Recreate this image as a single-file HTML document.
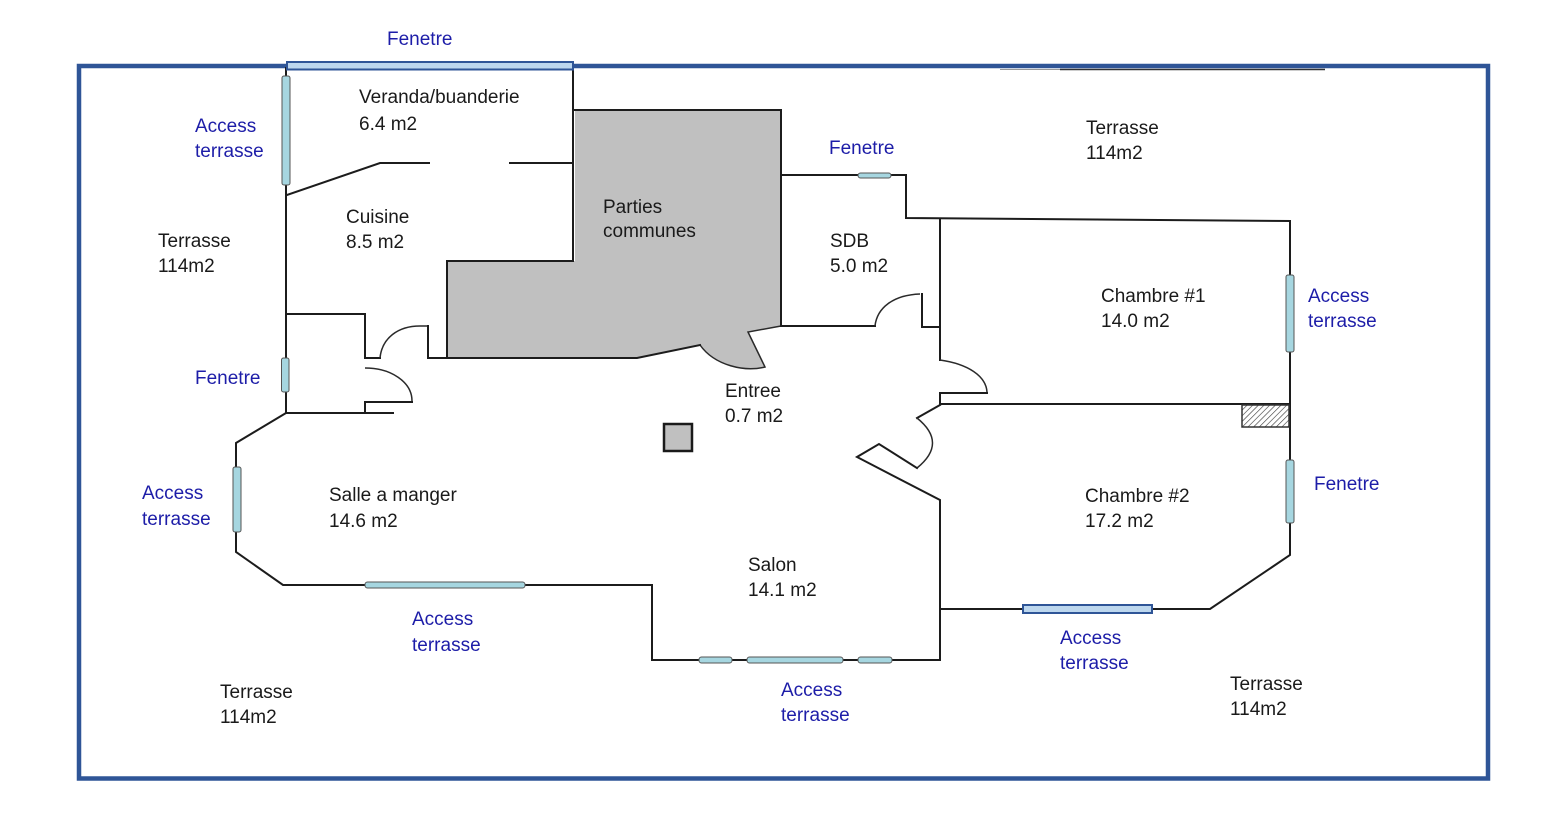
<!DOCTYPE html>
<html>
<head>
<meta charset="utf-8">
<style>
  html, body { margin: 0; padding: 0; background: #ffffff; }
  body { width: 1545px; height: 822px; overflow: hidden; }
  svg { display: block; }
  .t { font-family: "Liberation Sans", Arial, sans-serif; font-size: 19px; fill: #1a1a1a; }
  .b { font-family: "Liberation Sans", Arial, sans-serif; font-size: 19px; fill: #1d1da8; }
  .w { fill: none; stroke: #1c1c1c; stroke-width: 2; stroke-linejoin: miter; stroke-linecap: square; }
  .thin { fill: none; stroke: #2a2a2a; stroke-width: 1.5; }
  .cy { fill: #a6d6e0; stroke: #555; stroke-width: 1; }
  .bl { fill: #bdd7ee; stroke: #2f5597; stroke-width: 2; }
</style>
</head>
<body>
<svg width="1545" height="822" viewBox="0 0 1545 822" xmlns="http://www.w3.org/2000/svg">
  <defs>
    <pattern id="hatch" patternUnits="userSpaceOnUse" width="4" height="4" patternTransform="rotate(45)">
      <line x1="0" y1="0" x2="0" y2="4" stroke="#333" stroke-width="1.2"/>
    </pattern>
  </defs>

  <!-- Outer border -->
  <rect x="79" y="66" width="1409" height="712.5" fill="none" stroke="#2f5597" stroke-width="4.5"/>

  <!-- faint line top right -->
  <line x1="1000" y1="69.5" x2="1060" y2="69.5" stroke="#999" stroke-width="1"/>
  <line x1="1060" y1="69.5" x2="1325" y2="69.5" stroke="#333" stroke-width="1.4"/>

  <!-- Parties communes grey area -->
  <path d="M575,110 H781 V326 L748,332 L765,367 C745,372 715,366 700,345 L637,358 H447 V261 H575 Z" fill="#c0c0c0" stroke="none"/>
  <path class="w" d="M575,110 H781 V326"/>
  <path class="thin" d="M781,326 L748,332 L765,367 C745,372 715,366 700,345"/>
  <path class="w" d="M700,345 L637,358 H428"/>
  <path class="w" d="M447,358 V261 H573"/>

  <!-- Left outer wall -->
  <path class="w" d="M286,68 V413"/>
  <!-- Veranda / cuisine diagonal wall -->
  <path class="w" d="M287,195 L380,163 H429"/>
  <path class="w" d="M510,163 H573"/>
  <!-- Veranda right wall -->
  <path class="w" d="M573,68 V261"/>

  <!-- Closet -->
  <path class="w" d="M286,314 H365 V358 H380"/>
  <!-- Cuisine door -->
  <path class="thin" d="M380,358 C382,338 398,326 420,326 H428"/>
  <path class="w" d="M428,326 V358"/>
  <!-- Closet door -->
  <path class="thin" d="M365,368 C391,368 412,382 412,401"/>
  <path class="w" d="M412,402 H365 V413"/>
  <path class="w" d="M286,413 H393"/>

  <!-- Salle a manger outer walls -->
  <path class="w" d="M286,413 L236,443 V552 L283,585 H652 V660 H939"/>

  <!-- SDB -->
  <path class="w" d="M781,175 H906 V218 L1290,221"/>
  <path class="w" d="M781,326 H875"/>
  <path class="thin" d="M875,326 C877,308 893,295 920,294"/>
  <path class="w" d="M922,294 V327 H940"/>
  <path class="w" d="M940,220 V360"/>
  <!-- Chambre 1 door -->
  <path class="thin" d="M940,360 C968,364 986,376 987,392"/>
  <path class="w" d="M987,393 H940 V403"/>
  <!-- divider chambre 1 / 2 -->
  <path class="w" d="M940,404 H1290"/>
  <!-- Chambre 2 door -->
  <path class="w" d="M940,405 L917,418"/>
  <path class="thin" d="M917,418 Q948,443 917,468"/>
  <path class="w" d="M917,468 L879,444 L857,457 L940,500 V660"/>

  <!-- Right outer wall -->
  <path class="w" d="M1290,221 V555 L1210,609 H940"/>

  <!-- Hatched box -->
  <rect x="1242" y="405" width="47" height="22" fill="url(#hatch)" stroke="#333" stroke-width="1.5"/>

  <!-- Pillar -->
  <rect x="664" y="424" width="28" height="27" fill="#c0c0c0" stroke="#1a1a1a" stroke-width="2.5"/>

  <!-- Cyan windows -->
  <rect class="cy" x="282" y="76" width="8" height="109" rx="2"/>
  <rect class="cy" x="281.5" y="358" width="7.5" height="34" rx="2"/>
  <rect class="cy" x="233" y="467" width="8" height="65" rx="2"/>
  <rect class="cy" x="365" y="582" width="160" height="6" rx="2.5"/>
  <rect class="cy" x="699" y="657" width="33" height="6" rx="2.5"/>
  <rect class="cy" x="747" y="657" width="96" height="6" rx="2.5"/>
  <rect class="cy" x="858" y="657" width="34" height="6" rx="2.5"/>
  <rect class="cy" x="858" y="173" width="33" height="5" rx="2.5"/>
  <rect class="cy" x="1286" y="275" width="8" height="77" rx="2"/>
  <rect class="cy" x="1286" y="460" width="8" height="63" rx="2"/>

  <!-- Blue windows -->
  <rect class="bl" x="287" y="62" width="286" height="7.5"/>
  <rect class="bl" x="1023" y="605" width="129" height="8"/>

  <!-- Labels (black) -->
  <text class="t" x="359" y="103">Veranda/buanderie</text>
  <text class="t" x="359" y="130">6.4 m2</text>
  <text class="t" x="346" y="223">Cuisine</text>
  <text class="t" x="346" y="248">8.5 m2</text>
  <text class="t" x="158" y="247">Terrasse</text>
  <text class="t" x="158" y="272">114m2</text>
  <text class="t" x="603" y="213">Parties</text>
  <text class="t" x="603" y="237">communes</text>
  <text class="t" x="1086" y="134">Terrasse</text>
  <text class="t" x="1086" y="159">114m2</text>
  <text class="t" x="830" y="247">SDB</text>
  <text class="t" x="830" y="272">5.0 m2</text>
  <text class="t" x="1101" y="302">Chambre #1</text>
  <text class="t" x="1101" y="327">14.0 m2</text>
  <text class="t" x="725" y="397">Entree</text>
  <text class="t" x="725" y="422">0.7 m2</text>
  <text class="t" x="329" y="501">Salle a manger</text>
  <text class="t" x="329" y="527">14.6 m2</text>
  <text class="t" x="1085" y="502">Chambre #2</text>
  <text class="t" x="1085" y="527">17.2 m2</text>
  <text class="t" x="748" y="571">Salon</text>
  <text class="t" x="748" y="596">14.1 m2</text>
  <text class="t" x="1230" y="690">Terrasse</text>
  <text class="t" x="1230" y="715">114m2</text>
  <text class="t" x="220" y="698">Terrasse</text>
  <text class="t" x="220" y="723">114m2</text>

  <!-- Labels (blue) -->
  <text class="b" x="387" y="45">Fenetre</text>
  <text class="b" x="195" y="132">Access</text>
  <text class="b" x="195" y="157">terrasse</text>
  <text class="b" x="829" y="154">Fenetre</text>
  <text class="b" x="1308" y="302">Access</text>
  <text class="b" x="1308" y="327">terrasse</text>
  <text class="b" x="195" y="384">Fenetre</text>
  <text class="b" x="142" y="499">Access</text>
  <text class="b" x="142" y="525">terrasse</text>
  <text class="b" x="1314" y="490">Fenetre</text>
  <text class="b" x="412" y="625">Access</text>
  <text class="b" x="412" y="651">terrasse</text>
  <text class="b" x="1060" y="644">Access</text>
  <text class="b" x="1060" y="669">terrasse</text>
  <text class="b" x="781" y="696">Access</text>
  <text class="b" x="781" y="721">terrasse</text>
</svg>
</body>
</html>
